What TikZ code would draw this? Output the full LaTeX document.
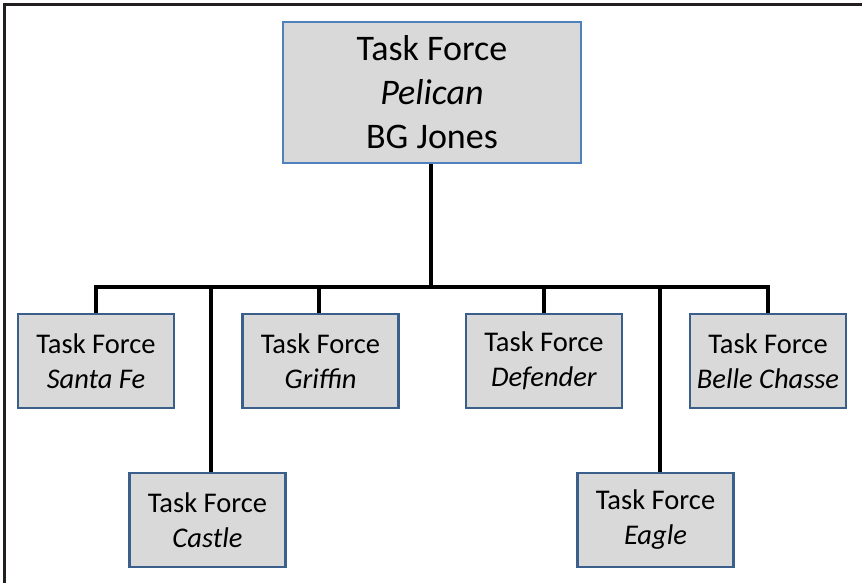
\documentclass[tikz,border=0pt]{standalone}
\usepackage{fontspec}
\setmainfont{Carlito}
\definecolor{boxgray}{HTML}{D9D9D9}
\definecolor{topblue}{HTML}{4F81BD}
\definecolor{subblue}{HTML}{3A5F8B}
\definecolor{framecol}{HTML}{231F20}
\begin{document}
\begin{tikzpicture}[x=1pt,y=-1pt,
  frame/.style={draw=framecol,line width=3pt},
  conn/.style={draw=black,line width=4.5pt},
  topbox/.style={draw=topblue,fill=boxgray,line width=2.5pt,minimum width=298pt,minimum height=141pt,inner sep=0pt,align=center,font=\fontsize{36}{44}\selectfont},
  subbox/.style={draw=subblue,fill=boxgray,line width=2.5pt,minimum width=156pt,minimum height=94pt,inner sep=0pt,align=center,font=\fontsize{28.5}{35}\selectfont}]
\useasboundingbox (0,0) rectangle (862,583);
\draw[frame] (862,5) -- (4,5) -- (4,583);
\node[topbox] (top) at (432,92.5) {Task Force\\\textit{Pelican}\\BG Jones};
\node[subbox] (santafe) at (96,361) {Task Force\\\textit{Santa Fe}};
\node[subbox] (griffin) at (320.5,361) {Task Force\\\textit{Griffin}};
\node[subbox] (defender) at (544,361) {Task Force\\\textit{Defender}};
\node[subbox] (belle) at (768,361) {Task Force\\\textit{Belle Chasse}};
\node[subbox] (castle) at (207.5,520) {Task Force\\\textit{Castle}};
\node[subbox] (eagle) at (655.5,520) {Task Force\\\textit{Eagle}};
\coordinate (bar) at (431,287);
\draw[conn] ([xshift=-1pt]top.south) -- ([xshift=-1pt]top.south |- bar);
\draw[conn] (santafe.north) |- (bar) -| (belle.north);
\draw[conn] ([xshift=-1.5pt]griffin.north) |- (bar);
\draw[conn] (defender.north) |- (bar);
\draw[conn] ([xshift=3.5pt]castle.north) |- (bar);
\draw[conn] ([xshift=4.5pt]eagle.north) |- (bar);
\end{tikzpicture}
\end{document}
